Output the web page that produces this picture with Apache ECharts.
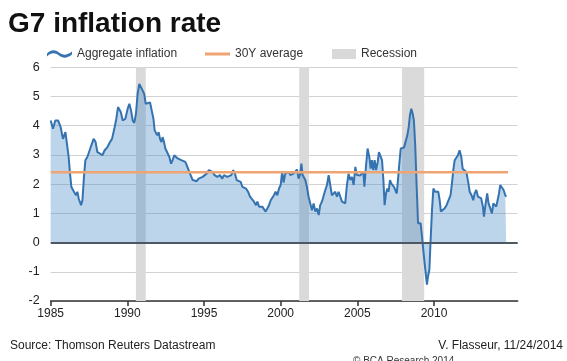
<!DOCTYPE html>
<html><head><meta charset="utf-8">
<script src="https://cdn.jsdelivr.net/npm/echarts@6/dist/echarts.min.js"></script>
<style>html,body{margin:0;padding:0;background:#fff}#c{width:567px;height:361px}</style>
</head><body><div id="c"></div>
<script>
// decimal years and G7 inflation (%)
const years = [
1985.00,1985.15,1985.30,1985.48,1985.65,1985.80,1985.96,1986.07,1986.17,1986.26,1986.35,1986.52,1986.65,1986.74,1986.83,1986.98,
1987.07,1987.17,1987.26,1987.39,1987.52,1987.65,1987.80,1987.93,1988.04,1988.20,1988.37,1988.52,1988.70,1988.87,1989.00,1989.17,
1989.28,1989.39,1989.57,1989.70,1989.87,
1990.02,1990.13,1990.24,1990.35,1990.45,1990.56,1990.67,1990.78,1990.89,1991.00,1991.10,1991.20,1991.32,1991.48,1991.60,1991.70,
1991.78,1991.86,1991.95,1992.04,1992.13,1992.22,1992.30,1992.39,1992.48,1992.61,1992.74,1992.85,1992.95,1993.06,1993.17,1993.28,
1993.39,1993.52,1993.65,1993.78,1993.87,1993.95,1994.04,1994.15,1994.26,1994.39,1994.52,1994.65,1994.78,1994.91,
1995.00,1995.17,1995.32,1995.43,1995.54,1995.69,1995.87,1996.04,1996.19,1996.30,1996.41,1996.52,1996.65,1996.78,1996.91,1997.02,
1997.13,1997.26,1997.39,1997.50,1997.61,1997.74,1997.87,1998.00,1998.13,1998.26,1998.39,1998.48,1998.59,1998.69,1998.80,1998.91,
1999.02,1999.13,1999.24,1999.35,1999.46,1999.56,1999.67,1999.78,1999.89,2000.00,2000.10,2000.19,2000.30,
2000.41,2000.52,2000.63,2000.73,2000.84,2000.95,2001.06,2001.17,2001.28,2001.35,2001.43,2001.52,2001.61,2001.71,2001.82,2001.93,
2002.04,2002.15,2002.26,2002.37,2002.48,2002.58,2002.69,2002.80,2002.91,2003.02,2003.13,2003.24,2003.34,2003.45,2003.56,2003.67,
2003.78,2003.89,2004.00,2004.11,2004.21,2004.32,2004.43,2004.54,2004.65,2004.76,2004.87,2004.97,2005.08,2005.19,
2005.28,2005.39,2005.46,2005.56,2005.67,2005.78,2005.87,2005.95,2006.04,2006.13,2006.22,2006.33,2006.41,2006.52,2006.61,2006.70,
2006.78,2006.87,2006.96,2007.04,2007.13,2007.22,2007.30,2007.39,2007.48,2007.57,2007.65,2007.74,2007.83,2007.94,2008.04,2008.15,
2008.26,2008.35,2008.43,2008.52,2008.61,2008.69,2008.78,2008.87,2008.96,2009.04,2009.13,2009.22,2009.30,2009.39,2009.48,2009.54,
2009.61,2009.70,2009.78,2009.87,2009.96,2010.07,2010.17,2010.28,
2010.37,2010.45,2010.56,2010.69,2010.82,2010.95,2011.08,2011.17,2011.26,2011.35,2011.45,2011.56,2011.67,2011.78,2011.87,2012.00,
2012.11,2012.23,2012.33,2012.45,2012.56,2012.65,2012.76,2012.87,2012.98,2013.08,2013.19,2013.26,2013.37,2013.47,2013.56,2013.67,
2013.78,2013.87,2013.95,2014.06,2014.17,2014.24,2014.32,2014.43,2014.54,2014.65,2014.71
];
const inflation = [
4.18,3.90,4.18,4.18,3.95,3.55,3.78,3.73,2.93,2.36,1.90,1.74,1.62,1.74,1.50,1.28,
1.45,2.25,2.82,2.93,2.99,3.33,3.55,3.44,3.10,3.05,2.99,3.16,3.27,3.44,3.55,3.95,
4.24,4.64,4.47,4.18,4.24,
4.58,4.75,4.52,4.18,4.09,4.41,5.09,5.43,5.45,5.20,5.09,4.75,4.80,4.80,4.80,4.24,
3.84,3.78,3.67,3.78,3.55,3.44,3.61,3.44,3.22,3.16,2.93,2.70,2.82,2.99,2.93,2.88,
2.88,2.82,2.82,2.76,2.65,2.61,2.42,2.36,2.14,2.08,2.10,2.19,2.16,2.25,
2.31,2.36,2.48,2.53,2.42,2.31,2.25,2.31,2.19,2.31,2.36,2.25,2.31,2.31,2.48,2.36,
2.14,2.19,2.08,1.91,1.93,1.85,1.74,1.57,1.51,1.40,1.28,1.40,1.23,1.17,1.23,1.17,
1.06,1.06,1.28,1.45,1.40,1.62,1.74,1.62,1.85,1.97,2.45,2.05,2.36,
2.31,2.42,2.31,2.36,2.36,2.42,2.50,2.19,2.36,2.70,2.31,2.36,2.14,1.91,1.57,1.34,
1.11,1.34,1.06,1.17,0.94,1.28,1.40,1.40,1.80,1.97,2.31,2.31,1.62,1.68,1.74,1.57,
1.74,1.57,1.40,1.45,1.34,1.97,2.36,2.14,2.25,1.97,2.59,2.31,2.36,2.30,
2.31,2.42,1.91,2.59,3.22,2.93,2.53,2.82,2.48,2.82,2.48,2.76,3.10,3.05,2.82,2.14,
1.28,1.68,1.85,1.74,2.14,2.02,2.02,1.91,1.97,1.68,2.14,2.70,3.22,3.22,3.25,3.22,
3.67,3.95,4.35,4.58,4.41,4.18,3.27,1.91,0.66,0.60,0.66,0.20,-0.25,-0.70,-1.16,-1.44,
-1.16,-0.93,0.09,1.11,1.85,1.74,1.68,1.74,
1.45,1.06,1.06,1.17,1.28,1.45,1.62,2.02,2.48,2.82,2.88,2.99,3.16,2.93,2.53,2.48,
2.42,2.08,1.74,1.62,1.45,1.68,1.80,1.57,1.62,1.51,1.23,0.89,1.34,1.68,1.34,1.17,
1.00,1.34,1.40,1.23,1.17,1.68,1.97,1.97,1.80,1.62,1.57
];
const avgYears = [1985, 2014.83];
const avgValues = [2.41, 2.41];
const recessionStart = [1990.56, 2001.21, 2007.91];
const recessionEnd = [1991.20, 2001.85, 2009.36];
const xTicks = [1985, 1990, 1995, 2000, 2005, 2010];
const yMin = -2, yMax = 6, yStep = 1;

const FONT = '"Liberation Sans", Arial, sans-serif';
const chart = echarts.init(document.getElementById('c'), null, {renderer: 'canvas'});
const infData = years.map((y, i) => [y, inflation[i]]);
const avgData = avgYears.map((y, i) => [y, avgValues[i]]);
const recAreas = recessionStart.map((s, i) => [{xAxis: s}, {xAxis: recessionEnd[i]}]);

const legendCommon = {top: 48, padding: 0, itemGap: 0,
  textStyle: {fontSize: 12, color: '#333', fontFamily: FONT}, selectedMode: false};

chart.setOption({
  animation: false,
  grid: {left: 50.7, right: 49.3, top: 67.3, bottom: 60},
  legend: [
    Object.assign({}, legendCommon, {left: 47, itemWidth: 25, itemHeight: 8,
      data: [{name: 'Aggregate inflation',
        icon: 'path://M0,4 C4,0 8,0 12,3 C16,6 20,6 25,2 L25,5 C20,9 16,9 12,6 C8,3 4,3 0,7 Z',
        itemStyle: {color: '#3573b0', borderWidth: 0}}]}),
    Object.assign({}, legendCommon, {left: 205, itemWidth: 25, itemHeight: 3,
      data: [{name: '30Y average', icon: 'rect', itemStyle: {color: '#eea573', borderWidth: 0}}]}),
    Object.assign({}, legendCommon, {left: 332, itemWidth: 24, itemHeight: 10,
      data: [{name: 'Recession', icon: 'rect', itemStyle: {color: '#d9d9d9', borderWidth: 0}}]})
  ],
  xAxis: {
    type: 'value', min: 1985, max: 2015.46,
    axisLine: {show: true, onZero: false, lineStyle: {color: '#333', width: 1.5}},
    axisTick: {show: true, length: 5, customValues: xTicks, lineStyle: {color: '#333', width: 1.5}},
    axisLabel: {customValues: xTicks, formatter: v => String(Math.round(v)), fontSize: 12,
      color: '#222', margin: 7, fontFamily: FONT},
    splitLine: {show: false}
  },
  yAxis: {
    type: 'value', min: yMin, max: yMax, interval: yStep,
    axisLine: {show: false}, axisTick: {show: false},
    axisLabel: {fontSize: 12.5, color: '#222', margin: 11, fontFamily: FONT},
    splitLine: {lineStyle: {color: '#d2d2d2', width: 1}}
  },
  series: [
    {name: 'Recession', type: 'line', data: [], z: 1,
      itemStyle: {color: '#d9d9d9'},
      markArea: {silent: true, itemStyle: {color: '#dadada'}, data: recAreas}},
    {name: 'Aggregate inflation', type: 'line', data: infData, z: 3,
      showSymbol: false, symbol: 'none', smooth: false,
      itemStyle: {color: '#3573b0'},
      lineStyle: {color: '#3573b0', width: 2},
      areaStyle: {color: 'rgba(66,136,198,0.5)', origin: 0},
      markLine: {silent: true, symbol: 'none', label: {show: false},
        lineStyle: {color: '#4d5864', width: 2, type: 'solid'},
        data: [{yAxis: 0}]}},
    {name: '30Y average', type: 'line', data: avgData, z: 4,
      showSymbol: false, symbol: 'none',
      itemStyle: {color: '#eea573'},
      lineStyle: {color: '#eea573', width: 2.5}}
  ],
  graphic: [
    {type: 'text', left: 8, top: 10, style: {text: 'G7 inflation rate',
      font: 'bold 28px ' + FONT, fill: '#111'}},
    {type: 'text', x: 10, y: 346, style: {text: 'Source: Thomson Reuters Datastream',
      font: '12px ' + FONT, fill: '#222', textAlign: 'left', textVerticalAlign: 'middle'}},
    {type: 'text', x: 563, y: 346, style: {text: 'V. Flasseur, 11/24/2014',
      font: '12px ' + FONT, fill: '#222', textAlign: 'right', textVerticalAlign: 'middle'}},
    {type: 'text', x: 353, y: 356, style: {text: '© BCA Research 2014',
      font: '10px ' + FONT, fill: '#333', textAlign: 'left', textVerticalAlign: 'top'}}
  ]
});
</script></body></html>
